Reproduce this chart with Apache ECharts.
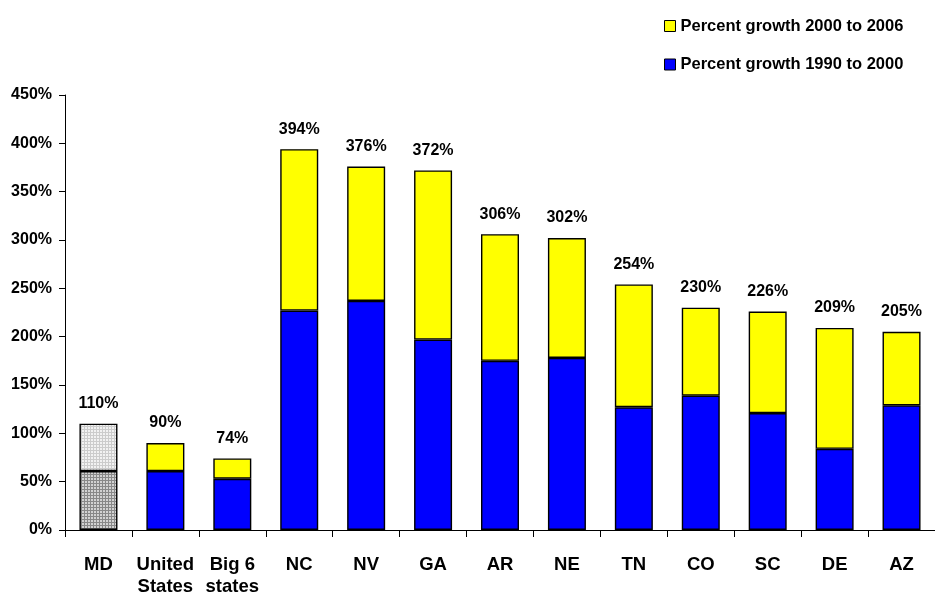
<!DOCTYPE html>
<html>
<head>
<meta charset="utf-8">
<script src="https://cdn.jsdelivr.net/npm/echarts@6/dist/echarts.min.js"></script>
<style>html,body{margin:0;padding:0;background:#fff;}#c{width:935px;height:598px;}</style>
</head>
<body>
<div id="c"></div>
<script>
var categories = ['MD', 'United\nStates', 'Big 6\nstates', 'NC', 'NV', 'GA', 'AR', 'NE', 'TN', 'CO', 'SC', 'DE', 'AZ'];
var growth1990to2000 = [61, 61, 53, 227, 237, 197, 175, 178, 127, 139, 121, 84, 129];
var totalGrowth = [110, 90, 74, 394, 376, 372, 306, 302, 254, 230, 226, 209, 205];
var yTicks = [0, 50, 100, 150, 200, 250, 300, 350, 400, 450];
var seriesNames = ['Percent growth 1990 to 2000', 'Percent growth 2000 to 2006'];

function makePattern(bg, line) {
  var cv = document.createElement('canvas');
  cv.width = 3; cv.height = 3;
  var ctx = cv.getContext('2d');
  ctx.fillStyle = bg; ctx.fillRect(0, 0, 3, 3);
  ctx.fillStyle = line;
  ctx.fillRect(0, 0, 3, 1);
  ctx.fillRect(0, 0, 1, 3);
  return { image: cv, repeat: 'repeat' };
}
var mdBottom = makePattern('#d2d2d2', '#888888');
var mdTop = makePattern('#f2f2f2', '#cccccc');

var font = 'Liberation Sans, Arial, sans-serif';

var bottomData = growth1990to2000.map(function (v, i) {
  var d = { value: v };
  if (i === 0) d.itemStyle = { color: mdBottom };
  return d;
});
var topData = totalGrowth.map(function (t, i) {
  var d = { value: t - growth1990to2000[i] };
  if (i === 0) d.itemStyle = { color: mdTop };
  return d;
});

var chart = echarts.init(document.getElementById('c'), null, { renderer: 'canvas' });
chart.setOption({
  animation: false,
  backgroundColor: '#fff',
  legend: {
    orient: 'vertical',
    left: 659,
    top: 12.5,
    itemWidth: 11,
    itemHeight: 11,
    itemGap: 21.5,
    icon: 'rect',
    data: [seriesNames[1], seriesNames[0]],
    textStyle: { fontFamily: font, fontWeight: 'bold', fontSize: 16.5, color: '#000' },
    itemStyle: { borderColor: '#000', borderWidth: 1 }
  },
  grid: { left: 65, top: 95, width: 884, height: 442, containLabel: false },
  xAxis: {
    type: 'category',
    data: categories,
    axisLine: { lineStyle: { color: '#000', width: 1 } },
    axisTick: { show: true, length: 7, lineStyle: { color: '#000' }, alignWithLabel: false },
    axisLabel: {
      interval: 0, margin: 24, color: '#000', fontFamily: font, fontWeight: 'bold',
      fontSize: 18.5, lineHeight: 22
    }
  },
  yAxis: {
    type: 'value',
    min: 0, max: 450, interval: 50,
    splitLine: { show: false },
    axisLine: { show: true, lineStyle: { color: '#000', width: 1 } },
    axisTick: { show: true, length: 6, lineStyle: { color: '#000' } },
    axisLabel: {
      margin: 13, color: '#000', fontFamily: font, fontWeight: 'bold', fontSize: 16,
      formatter: function (v) { return yTicks.indexOf(v) >= 0 ? v + '%' : ''; }
    }
  },
  series: [
    {
      name: seriesNames[0], type: 'bar', stack: 'g', barWidth: 38,
      itemStyle: { color: '#0000ff', borderColor: '#000', borderWidth: 1.4 },
      data: bottomData
    },
    {
      name: seriesNames[1], type: 'bar', stack: 'g', barWidth: 38,
      itemStyle: { color: '#ffff00', borderColor: '#000', borderWidth: 1.4 },
      label: {
        show: true, position: 'top', distance: 12, color: '#000',
        fontFamily: font, fontWeight: 'bold', fontSize: 16,
        formatter: function (p) { return totalGrowth[p.dataIndex] + '%'; }
      },
      data: topData
    }
  ]
});
</script>
</body>
</html>
